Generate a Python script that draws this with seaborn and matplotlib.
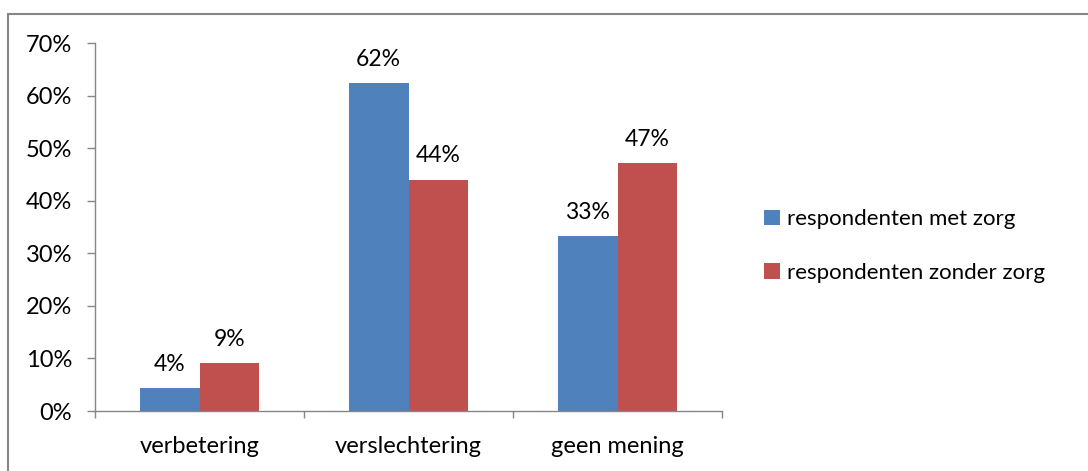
import matplotlib
matplotlib.use("Agg")
import matplotlib.pyplot as plt
import seaborn as sns
import pandas as pd
from matplotlib.patches import Rectangle
from matplotlib.ticker import FixedLocator, PercentFormatter

categories = ["verbetering", "verslechtering", "geen mening"]
series_names = ["respondenten met zorg", "respondenten zonder zorg"]
met_zorg = [4.4, 62.3, 33.3]
zonder_zorg = [9.1, 44.0, 47.1]
colors = ["#4F81BD", "#C0504D"]

df = pd.DataFrame({
    "categorie": categories * 2,
    "groep": [series_names[0]] * 3 + [series_names[1]] * 3,
    "waarde": met_zorg + zonder_zorg,
})

sns.set_theme(style="white")
plt.rcParams["font.family"] = ["Lato", "DejaVu Sans"]
plt.rcParams["text.color"] = "#000000"
fs = 17

W, H = 1088, 471
fig = plt.figure(figsize=(W / 100, H / 100), dpi=100)
ax = fig.add_axes([95 / W, (H - 411) / H, (722 - 95) / W, (411 - 43) / H])

sns.barplot(data=df, x="categorie", y="waarde", hue="groep", palette=colors,
            width=0.574, gap=0, saturation=1, ax=ax, legend=True, linewidth=0)

for cont in ax.containers:
    ax.bar_label(cont, labels=[f"{round(v)}%" for v in cont.datavalues],
                 padding=9.5, fontsize=16.5, color="#000000")

ax.set_ylim(0, 70)
ax.set_xlim(-0.5, 2.5)
ax.yaxis.set_major_locator(FixedLocator([0, 10, 20, 30, 40, 50, 60, 70]))
ax.yaxis.set_major_formatter(PercentFormatter(decimals=0))
ax.set_xlabel("")
ax.set_ylabel("")
ax.tick_params(axis="y", which="major", length=5.5, width=1, color="#868686",
               labelsize=fs, labelcolor="#000000", pad=11, direction="out", left=True)
ax.tick_params(axis="x", which="major", length=0, labelsize=fs, labelcolor="#000000", pad=18)
ax.xaxis.set_minor_locator(FixedLocator([-0.5, 0.5, 1.5, 2.5]))
ax.tick_params(axis="x", which="minor", length=5, width=1, color="#868686",
               direction="out", bottom=True)
for s in ["top", "right"]:
    ax.spines[s].set_visible(False)
for s in ["left", "bottom"]:
    ax.spines[s].set_color("#868686")
    ax.spines[s].set_linewidth(1)

handles, labels = ax.get_legend_handles_labels()
leg = ax.legend(handles, labels, loc="center left", bbox_to_anchor=(764 / W, (H - 246) / H),
                bbox_transform=fig.transFigure, frameon=False, fontsize=16,
                handlelength=0.7, handleheight=0.7, handletextpad=0.35, labelspacing=1.5,
                borderaxespad=0, borderpad=0)
for t in leg.get_texts():
    t.set_color("#000000")

# outer chart border (left and top visible)
fig.patches.append(Rectangle((7.5 / W, -0.1), 1.2, (H - 13.5) / H + 0.1,
                             transform=fig.transFigure, fill=False,
                             edgecolor="#868686", linewidth=1.5))

fig.savefig("out.png", dpi=100, facecolor="white")
